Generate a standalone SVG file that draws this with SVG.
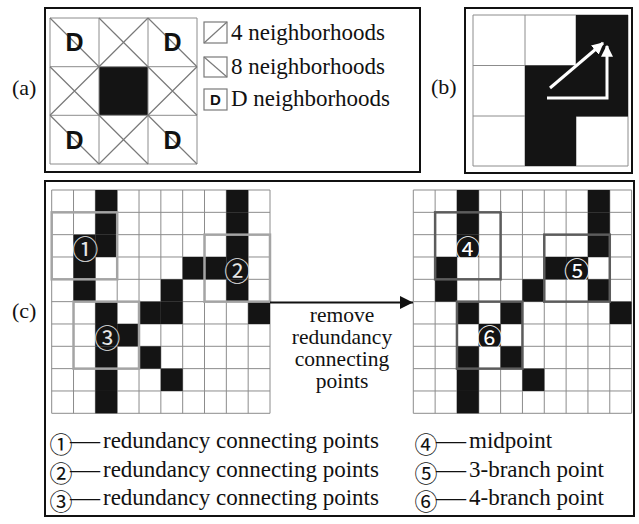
<svg xmlns="http://www.w3.org/2000/svg" xmlns:xlink="http://www.w3.org/1999/xlink" width="639" height="524" viewBox="0 0 639 524">
<style>
.frame{fill:none;stroke:#111;stroke-width:2}
.gl{fill:none;stroke:#8c8c8c;stroke-width:1}
.dg{fill:none;stroke:#7a7a7a;stroke-width:1.2}
.blk{fill:#141414}
.t{font-family:"Liberation Serif","Times New Roman",serif;font-size:23px;fill:#111}
.lab{font-family:"Liberation Serif","Times New Roman",serif;font-size:22px;fill:#111}
.mid{font-family:"Liberation Serif","Times New Roman",serif;font-size:21.5px;fill:#111;text-anchor:middle}
.D{font-family:"Liberation Sans",Arial,sans-serif;font-weight:bold;font-size:25px;fill:#111;text-anchor:middle}
.cj{font-family:"Noto Sans CJK SC","DejaVu Sans",sans-serif;font-size:23px}
.cn{font-family:"Noto Sans CJK SC","DejaVu Sans",sans-serif;font-size:26px;text-anchor:middle}
.boxL{fill:none;stroke:#a4a4a4;stroke-width:2.5}
.boxR{fill:none;stroke:#5c5c5c;stroke-width:2.5}
</style>
<defs>
<rect id="cell" class="blk" width="21.83" height="22.33"/>
<marker id="wh" viewBox="0 0 10 10" refX="9" refY="5" markerWidth="4" markerHeight="4" orient="auto" markerUnits="strokeWidth"><path d="M0,0 L10,5 L0,10 z" fill="#fff"/></marker>
<marker id="bk" viewBox="0 0 10 10" refX="10" refY="5" markerWidth="6" markerHeight="6.4" orient="auto" markerUnits="strokeWidth"><path d="M0,0 L10,5 L0,10 z" fill="#111"/></marker>
<path id="grid10" class="gl" d="M0,0H218.3V223.3H0Z M21.83,0V223.3 M43.66,0V223.3 M65.49,0V223.3 M87.32,0V223.3 M109.15,0V223.3 M130.98,0V223.3 M152.81,0V223.3 M174.64,0V223.3 M196.47,0V223.3 M0,22.33H218.3 M0,44.66H218.3 M0,66.99H218.3 M0,89.32H218.3 M0,111.65H218.3 M0,133.98H218.3 M0,156.31H218.3 M0,178.64H218.3 M0,200.97H218.3"/>
</defs>

<!-- Panel labels -->
<text class="lab" x="12" y="95">(a)</text>
<text class="lab" x="431" y="94">(b)</text>
<text class="lab" x="12" y="318">(c)</text>

<!-- Panel (a) -->
<g id="panel-a">
<rect class="frame" x="45" y="8" width="375" height="164"/>
<rect x="50" y="18" width="147" height="146" fill="#fff"/>
<rect class="blk" x="99" y="66.7" width="49" height="48.6"/>
<path class="gl" d="M50,18H197V164H50Z M99,18V164 M148,18V164 M50,66.7H197 M50,115.3H197"/>
<path class="dg" d="M50,18L99,66.7 M148,18L197,66.7 M50,115.3L99,164 M148,115.3L197,164
M99,18L148,66.7 M148,18L99,66.7 M50,66.7L99,115.3 M99,66.7L50,115.3 M148,66.7L197,115.3 M197,66.7L148,115.3 M99,115.3L148,164 M148,115.3L99,164"/>
<text class="D" x="74.5" y="51">D</text>
<text class="D" x="172.5" y="51">D</text>
<text class="D" x="74.5" y="148.5">D</text>
<text class="D" x="172.5" y="148.5">D</text>
<g id="legend-a">
<rect class="dg" x="204" y="22" width="23" height="21"/>
<path class="dg" d="M204,43L227,22"/>
<rect class="dg" x="204" y="57" width="23" height="20"/>
<path class="dg" d="M204,57L227,77"/>
<rect class="dg" x="204" y="89" width="23" height="21"/>
<text class="D" style="font-size:15px" x="215.5" y="105">D</text>
<text class="t" x="231" y="40">4 neighborhoods</text>
<text class="t" x="231" y="74">8 neighborhoods</text>
<text class="t" x="231" y="106">D neighborhoods</text>
</g>
</g>

<!-- Panel (b) -->
<g id="panel-b">
<rect class="frame" x="465" y="8" width="167" height="165"/>
<rect x="473" y="15" width="155" height="151" fill="#fff"/>
<path class="gl" d="M473,15H628V166H473Z M525,15V166 M576,15V166 M473,65.5H628 M473,116H628"/>
<rect class="blk" x="576" y="15" width="52" height="51"/>
<rect class="blk" x="525" y="65.5" width="103" height="51"/>
<rect class="blk" x="525" y="116" width="51" height="50"/>
<line x1="550" y1="88" x2="603" y2="43" stroke="#fff" stroke-width="3" marker-end="url(#wh)"/>
<polyline points="547,98 607,98 607,46" fill="none" stroke="#fff" stroke-width="3" marker-end="url(#wh)"/>
</g>

<!-- Panel (c) -->
<g id="panel-c">
<rect class="frame" x="45" y="181" width="589" height="335"/>

<g id="grid-left" transform="translate(51.7,190)">
<rect width="218.3" height="223.3" fill="#fff"/>
<use xlink:href="#grid10"/>
<use xlink:href="#cell" x="43.66" y="0"/><use xlink:href="#cell" x="174.64" y="0"/>
<use xlink:href="#cell" x="43.66" y="22.33"/><use xlink:href="#cell" x="174.64" y="22.33"/>
<use xlink:href="#cell" x="21.83" y="44.66"/><use xlink:href="#cell" x="43.66" y="44.66"/><use xlink:href="#cell" x="174.64" y="44.66"/>
<use xlink:href="#cell" x="21.83" y="66.99"/><use xlink:href="#cell" x="130.98" y="66.99"/><use xlink:href="#cell" x="152.81" y="66.99"/><use xlink:href="#cell" x="174.64" y="66.99"/>
<use xlink:href="#cell" x="21.83" y="89.32"/><use xlink:href="#cell" x="109.15" y="89.32"/><use xlink:href="#cell" x="174.64" y="89.32"/>
<use xlink:href="#cell" x="43.66" y="111.65"/><use xlink:href="#cell" x="87.32" y="111.65"/><use xlink:href="#cell" x="109.15" y="111.65"/><use xlink:href="#cell" x="196.47" y="111.65"/>
<use xlink:href="#cell" x="43.66" y="133.98"/><use xlink:href="#cell" x="65.49" y="133.98"/>
<use xlink:href="#cell" x="43.66" y="156.31"/><use xlink:href="#cell" x="87.32" y="156.31"/>
<use xlink:href="#cell" x="43.66" y="178.64"/><use xlink:href="#cell" x="109.15" y="178.64"/>
<use xlink:href="#cell" x="43.66" y="200.97"/>
<rect class="boxL" x="0" y="22.33" width="65.49" height="66.99"/>
<rect class="boxL" x="152.81" y="44.66" width="65.49" height="66.99"/>
<rect class="boxL" x="21.83" y="111.65" width="65.49" height="66.99"/>
<text class="cn" fill="#e6e6e6" x="33.5" y="68.5">①</text>
<text class="cn" fill="#e6e6e6" x="185.5" y="90.8">②</text>
<text class="cn" fill="#e6e6e6" x="55.5" y="157.6">③</text>
</g>

<g id="grid-right" transform="translate(413.3,190)">
<rect width="218.3" height="223.3" fill="#fff"/>
<use xlink:href="#grid10"/>
<use xlink:href="#cell" x="43.66" y="0"/><use xlink:href="#cell" x="174.64" y="0"/>
<use xlink:href="#cell" x="43.66" y="22.33"/><use xlink:href="#cell" x="174.64" y="22.33"/>
<use xlink:href="#cell" x="43.66" y="44.66"/><use xlink:href="#cell" x="174.64" y="44.66"/>
<use xlink:href="#cell" x="21.83" y="66.99"/><use xlink:href="#cell" x="130.98" y="66.99"/><use xlink:href="#cell" x="152.81" y="66.99"/>
<use xlink:href="#cell" x="21.83" y="89.32"/><use xlink:href="#cell" x="109.15" y="89.32"/><use xlink:href="#cell" x="174.64" y="89.32"/>
<use xlink:href="#cell" x="43.66" y="111.65"/><use xlink:href="#cell" x="87.32" y="111.65"/><use xlink:href="#cell" x="196.47" y="111.65"/>
<use xlink:href="#cell" x="65.49" y="133.98"/>
<use xlink:href="#cell" x="43.66" y="156.31"/><use xlink:href="#cell" x="87.32" y="156.31"/>
<use xlink:href="#cell" x="43.66" y="178.64"/><use xlink:href="#cell" x="109.15" y="178.64"/>
<use xlink:href="#cell" x="43.66" y="200.97"/>
<rect class="boxR" x="21.83" y="22.33" width="65.49" height="66.99"/>
<rect class="boxR" x="130.98" y="44.66" width="65.49" height="66.99"/>
<rect class="boxR" x="43.66" y="111.65" width="65.49" height="66.99"/>
<text class="cn" fill="#fff" x="54.6" y="68.5">④</text>
<text class="cn" fill="#fff" x="163.7" y="90.8">⑤</text>
<text class="cn" fill="#fff" x="76.4" y="157.6">⑥</text>
</g>

<g id="connectors">
<line x1="270" y1="302.5" x2="413" y2="302.5" stroke="#111" stroke-width="2.2" marker-end="url(#bk)"/>
</g>
<g id="arrow-label">
<text class="mid" x="342" y="322">remove</text>
<text class="mid" x="342" y="344">redundancy</text>
<text class="mid" x="342" y="366">connecting</text>
<text class="mid" x="342" y="388">points</text>
</g>

<g id="legend-c">
<text class="t" x="49.5" y="448"><tspan class="cj" y="453">①</tspan><tspan x="70" y="448" textLength="30" lengthAdjust="spacingAndGlyphs">—</tspan><tspan x="103">redundancy connecting points</tspan></text>
<text class="t" x="49.5" y="477"><tspan class="cj" y="482">②</tspan><tspan x="70" y="477" textLength="30" lengthAdjust="spacingAndGlyphs">—</tspan><tspan x="103">redundancy connecting points</tspan></text>
<text class="t" x="49.5" y="505"><tspan class="cj" y="510">③</tspan><tspan x="70" y="505" textLength="30" lengthAdjust="spacingAndGlyphs">—</tspan><tspan x="103">redundancy connecting points</tspan></text>
<text class="t" x="414.5" y="448"><tspan class="cj" y="453">④</tspan><tspan x="436" y="448" textLength="30" lengthAdjust="spacingAndGlyphs">—</tspan><tspan x="469">midpoint</tspan></text>
<text class="t" x="414.5" y="477"><tspan class="cj" y="482">⑤</tspan><tspan x="436" y="477" textLength="30" lengthAdjust="spacingAndGlyphs">—</tspan><tspan x="469">3-branch point</tspan></text>
<text class="t" x="414.5" y="505"><tspan class="cj" y="510">⑥</tspan><tspan x="436" y="505" textLength="30" lengthAdjust="spacingAndGlyphs">—</tspan><tspan x="469">4-branch point</tspan></text>
</g>
</g>
</svg>
